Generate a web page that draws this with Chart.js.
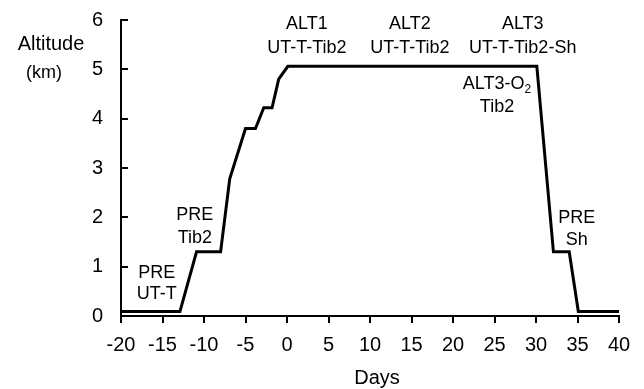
<!DOCTYPE html>
<html>
<head>
<meta charset="utf-8">
<script src="https://cdn.jsdelivr.net/npm/chart.js@4"></script>
<style>
  html, body { margin: 0; padding: 0; background: #fff; }
  #chart { display: block; }
</style>
</head>
<body>
<canvas id="chart" width="644" height="389"></canvas>
<script>
// Altitude profile over the expedition (days relative to arrival at 5050 m)
const days     = [-20, -12.9, -10.9, -8, -6.9, -5, -3.8, -2.8, -1.8, -1, 0.1, 30.1, 32.1, 34, 35.1, 40];
const altitude = [0.09, 0.09, 1.3, 1.3, 2.78, 3.8, 3.8, 4.22, 4.22, 4.8, 5.06, 5.06, 1.3, 1.3, 0.09, 0.09];

const xTicks = [-20, -15, -10, -5, 0, 5, 10, 15, 20, 25, 30, 35, 40];
const yTicks = [0, 1, 2, 3, 4, 5, 6];

// Phase labels, anchored in data units (day, km)
const notes = [
    { day: -15.7, alt: [0.87, 0.44], lines: ['PRE', 'UT-T'] },
    { day: -11.1, alt: [2.05, 1.59], lines: ['PRE', 'Tib2'] },
    { day: 2.4,   alt: [5.91, 5.44], lines: ['ALT1', 'UT-T-Tib2'] },
    { day: 14.8,  alt: [5.91, 5.44], lines: ['ALT2', 'UT-T-Tib2'] },
    { day: 28.4,  alt: [5.91, 5.44], lines: ['ALT3', 'UT-T-Tib2-Sh'] },
    { day: 25.3,  alt: [4.70, 4.23], lines: ['ALT3-O|2', 'Tib2'] },
    { day: 34.9,  alt: [1.98, 1.54], lines: ['PRE', 'Sh'] },
];

const FONT = '"Liberation Sans", Arial, Helvetica, sans-serif';

// ── Plugins ──────────────────────────────────────────────────────────────────

// y ticks point inward, into the plot
const innerTicks = {
    id: 'innerTicks',
    afterDraw(chart) {
        const { ctx, chartArea, scales: { y } } = chart;
        ctx.save();
        ctx.strokeStyle = '#000';
        ctx.lineWidth = 2;
        yTicks.forEach(v => {
            const py = Math.round(y.getPixelForValue(v));
            ctx.beginPath();
            ctx.moveTo(chartArea.left, py);
            ctx.lineTo(chartArea.left + 7, py);
            ctx.stroke();
        });
        ctx.restore();
    },
};

const phaseLabels = {
    id: 'phaseLabels',
    afterDraw(chart) {
        const { ctx, scales: { x, y } } = chart;
        ctx.save();
        ctx.fillStyle = '#000';
        ctx.textBaseline = 'middle';
        notes.forEach(n => {
            const px = x.getPixelForValue(n.day);
            n.lines.forEach((txt, i) => {
                const py = y.getPixelForValue(n.alt[i]);
                const [main, sub] = txt.split('|');
                ctx.font = `18px ${FONT}`;
                const wMain = ctx.measureText(main).width;
                let wSub = 0;
                if (sub) { ctx.font = `12px ${FONT}`; wSub = ctx.measureText(sub).width; }
                const left = px - (wMain + wSub) / 2;
                ctx.textAlign = 'left';
                ctx.font = `18px ${FONT}`;
                ctx.fillText(main, left, py);
                if (sub) {
                    ctx.font = `12px ${FONT}`;
                    ctx.fillText(sub, left + wMain, py + 6);
                }
            });
        });

        // axis titles, written horizontally
        ctx.textAlign = 'center';
        ctx.font = `20px ${FONT}`;
        ctx.fillText('Altitude', 51, 44);
        ctx.font = `18px ${FONT}`;
        ctx.fillText('(km)', 44, 73);
        ctx.font = `20px ${FONT}`;
        ctx.fillText('Days', 377, 378);
        ctx.restore();
    },
};

// ── Chart ─────────────────────────────────────────────────────────────────────

new Chart(document.getElementById('chart').getContext('2d'), {
    type: 'line',
    data: {
        datasets: [{
            data: days.map((d, i) => ({ x: d, y: altitude[i] })),
            borderColor: '#000',
            borderWidth: 3,
            pointRadius: 0,
            tension: 0,
            fill: false,
            clip: false,
        }],
    },
    options: {
        responsive: false,
        animation: false,
        devicePixelRatio: 1,
        layout: { padding: { top: 20, right: 25, left: 0, bottom: 0 } },
        plugins: {
            legend: { display: false },
            tooltip: { enabled: false },
        },
        scales: {
            x: {
                type: 'linear',
                min: -20,
                max: 40,
                afterBuildTicks: s => { s.ticks = xTicks.map(v => ({ value: v })); },
                afterFit: s => { s.height = 73; s.paddingLeft = 0; s.paddingRight = 0; },
                ticks: {
                    color: '#000',
                    font: { family: FONT, size: 20 },
                    padding: 10,
                    maxRotation: 0,
                },
                grid: {
                    drawOnChartArea: false,
                    drawTicks: true,
                    tickLength: 7,
                    color: '#000',
                    lineWidth: 2,
                },
                border: { color: '#000', width: 2 },
            },
            y: {
                min: 0,
                max: 6,
                afterBuildTicks: s => { s.ticks = yTicks.map(v => ({ value: v })); },
                afterFit: s => { s.width = 121; s.paddingTop = 0; s.paddingBottom = 0; },
                ticks: {
                    color: '#000',
                    font: { family: FONT, size: 20 },
                    padding: 18,
                },
                grid: {
                    drawOnChartArea: false,
                    drawTicks: false,
                },
                border: { color: '#000', width: 2 },
            },
        },
    },
    plugins: [innerTicks, phaseLabels],
});
</script>
</body>
</html>
